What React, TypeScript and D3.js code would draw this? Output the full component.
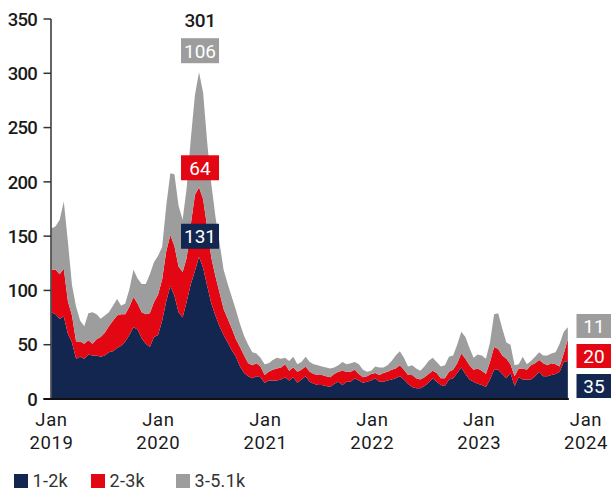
import React from 'react';
import * as d3 from 'd3';

// fortnightly counts, starting 1 Jan 2019
const startDate = new Date(2019, 0, 1);
const stepDays = 14;

const band1to2k = [
  80, 78, 74, 76, 60, 52, 37, 39, 37, 41,
  40, 40, 39, 40, 43, 44, 47, 49, 53, 59,
  66, 64, 56, 51, 48, 57, 59, 72, 90, 104,
  95, 80, 75, 90, 106, 118, 131, 121, 104, 88,
  77, 67, 59, 52, 45, 39, 30, 24, 21, 19,
  21, 20, 15, 17, 17, 17, 18, 20, 17, 20,
  15, 18, 21, 16, 14, 13, 13, 12, 11, 14,
  16, 13, 16, 16, 19, 17, 15, 16, 17, 19,
  16, 16, 17, 18, 19, 21, 18, 14, 11, 10,
  10, 12, 15, 19, 16, 13, 12, 18, 19, 24,
  29, 23, 18, 16, 14, 13, 11, 18, 27, 27,
  23, 19, 24, 12, 20, 18, 18, 18, 21, 25,
  21, 21, 22, 23, 25, 34, 35,
];

const band2to3k = [
  39, 41, 41, 44, 30, 25, 16, 14, 14, 13,
  11, 15, 18, 21, 24, 28, 30, 29, 25, 26,
  28, 24, 24, 27, 31, 32, 37, 38, 46, 47,
  46, 42, 42, 40, 55, 70, 64, 63, 54, 42,
  36, 31, 24, 22, 20, 16, 18, 16, 12, 12,
  12, 10, 7, 8, 10, 11, 11, 12, 9, 9,
  10, 9, 9, 9, 9, 9, 9, 9, 9, 9,
  9, 13, 9, 9, 8, 6, 5, 5, 6, 5,
  6, 8, 8, 9, 9, 10, 9, 8, 11, 9,
  8, 8, 8, 7, 8, 6, 7, 7, 8, 9,
  13, 14, 13, 11, 14, 13, 12, 16, 21, 19,
  17, 18, 8, 9, 8, 10, 9, 13, 12, 11,
  12, 10, 11, 9, 5, 8, 20,
];

const band3to5k = [
  38, 40, 50, 62, 55, 28, 32, 19, 16, 25,
  29, 23, 17, 16, 13, 14, 15, 8, 10, 16,
  25, 23, 26, 28, 36, 37, 36, 30, 42, 57,
  66, 56, 48, 65, 79, 92, 106, 98, 78, 68,
  55, 46, 36, 32, 29, 27, 21, 18, 17, 12,
  9, 8, 10, 8, 9, 10, 8, 6, 9, 10,
  7, 7, 9, 9, 9, 9, 8, 8, 8, 6,
  6, 8, 7, 8, 7, 9, 7, 4, 3, 6,
  7, 5, 6, 8, 12, 13, 11, 8, 9, 9,
  8, 10, 12, 12, 10, 11, 12, 14, 13, 17,
  20, 20, 16, 11, 13, 14, 14, 18, 30, 33,
  25, 15, 18, 10, 4, 11, 5, 4, 6, 7,
  7, 9, 9, 11, 21, 20, 11,
];

const seriesKeys = ['1-2k', '2-3k', '3-5.1k'];
const seriesColors = ['#12264f', '#e30613', '#9d9d9d'];
const yTicks = [0, 50, 100, 150, 200, 250, 300, 350];
const xTickYears = [2019, 2020, 2021, 2022, 2023, 2024];

const W = 611;
const H = 492;
const FONT = 'Roboto, sans-serif';

export default function App() {
  const rows = band1to2k.map((v, i) => ({
    date: d3.timeDay.offset(startDate, i * stepDays),
    '1-2k': v,
    '2-3k': band2to3k[i],
    '3-5.1k': band3to5k[i],
  }));

  const x = d3
    .scaleTime()
    .domain([new Date(2019, 0, 1), new Date(2024, 0, 1)])
    .range([51.5, 586]);
  const y = d3.scaleLinear().domain([0, 350]).range([399, 19]);

  const stacked = d3.stack<any>().keys(seriesKeys)(rows);

  const area = d3
    .area<any>()
    .x((d) => x(d.data.date))
    .y0((d) => y(d[0]))
    .y1((d) => y(d[1]));

  // peak annotation
  const totals = rows.map((r) => r['1-2k'] + r['2-3k'] + r['3-5.1k']);
  const peak = d3.maxIndex(totals);
  const px = x(rows[peak].date);
  const peakBoxes = [
    { top: stacked[0][peak][1], gap: 8, value: band1to2k[peak] },
    { top: stacked[1][peak][1], gap: 7, value: band2to3k[peak] },
    { top: stacked[2][peak][1], gap: 9, value: band3to5k[peak] },
  ];
  const grayBoxTop = y(totals[peak]) - 9 - 25;

  // latest values, stacked boxes on the right
  const last = rows.length - 1;
  const lastX = x(rows[last].date);
  const lastVals = [band1to2k[last], band2to3k[last], band3to5k[last]];

  const legendX = [14, 91, 176];

  return (
    <svg
      width={W}
      height={H}
      style={{ position: 'absolute', left: 0, top: 0, display: 'block' }}
      fontFamily={FONT}
    >
      <rect width={W} height={H} fill="#fff" />

      {stacked.map((s, i) => (
        <path key={s.key} d={area(s) || ''} fill={seriesColors[i]} />
      ))}

      {/* y axis */}
      <line x1={51} x2={51} y1={y(350)} y2={y(0)} stroke="#333" strokeWidth={1.5} />
      {yTicks.map((t) => (
        <g key={t}>
          <line x1={43.5} x2={51} y1={y(t)} y2={y(t)} stroke="#333" strokeWidth={1.5} />
          <text
            x={37}
            y={y(t)}
            dy="0.36em"
            textAnchor="end"
            fontSize={18.5}
            fontWeight={500}
            fill="#1a1a1a"
            letterSpacing={-0.8}
          >
            {t}
          </text>
        </g>
      ))}

      {/* x axis */}
      <line x1={43.5} x2={lastX + 1} y1={y(0)} y2={y(0)} stroke="#111" strokeWidth={2} />
      {xTickYears.map((yr) => {
        const cx = x(new Date(yr, 0, 1));
        return (
          <g key={yr} fontSize={18.5} fill="#1a1a1a" textAnchor="middle" letterSpacing={0.6}>
            <text x={cx} y={426}>Jan</text>
            <text x={cx} y={449}>{yr}</text>
          </g>
        );
      })}

      {/* peak labels */}
      {peakBoxes.map((b, i) => {
        const bottom = y(b.top) - b.gap;
        return (
          <g key={i}>
            <rect x={px - 18} y={bottom - 25} width={38} height={25} fill={seriesColors[i]} />
            <text
              x={px + 1}
              y={bottom - 12.5}
              dy="0.36em"
              textAnchor="middle"
              fontSize={19}
              fill="#fff"
            >
              {b.value}
            </text>
          </g>
        );
      })}
      <text
        x={px + 1}
        y={grayBoxTop - 11}
        textAnchor="middle"
        fontSize={19}
        fontWeight={500}
        fill="#1a1a1a"
        letterSpacing={-0.4}
      >
        {totals[peak]}
      </text>

      {/* latest labels */}
      {lastVals.map((v, i) => {
        const bottom = y(0) - 1 - i * 30;
        return (
          <g key={i}>
            <rect x={576.5} y={bottom - 24} width={36} height={24} fill={seriesColors[i]} />
            <text
              x={594}
              y={bottom - 12}
              dy="0.36em"
              textAnchor="middle"
              fontSize={19}
              fill="#fff"
            >
              {v}
            </text>
          </g>
        );
      })}

      {/* legend */}
      {seriesKeys.map((k, i) => (
        <g key={k}>
          <rect x={legendX[i]} y={474} width={14} height={14} fill={seriesColors[i]} />
          <text x={legendX[i] + 18.5} y={481} dy="0.36em" fontSize={18} fill="#333" letterSpacing={0.3}>
            {k}
          </text>
        </g>
      ))}
    </svg>
  );
}
